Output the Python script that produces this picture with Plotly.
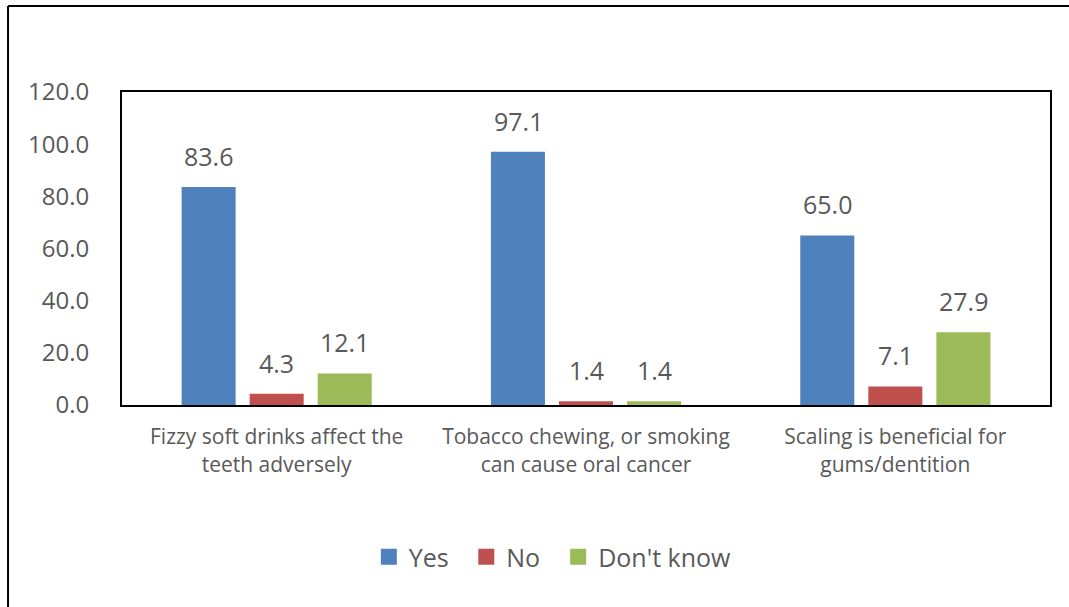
import plotly.graph_objects as go

categories = ["Fizzy soft drinks affect the<br>teeth adversely",
              "Tobacco chewing, or smoking<br>can cause oral cancer",
              "Scaling is beneficial for<br>gums/dentition"]
series_names = ["Yes", "No", "Don't know"]
yes_vals = [83.6, 97.1, 65.0]
no_vals = [4.3, 1.4, 7.1]
dk_vals = [12.1, 1.4, 27.9]
colors = ["#4F81BD", "#C0504D", "#9BBB59"]
y_ticks = [0, 20, 40, 60, 80, 100, 120]

FONT = "Open Sans, Liberation Sans, sans-serif"
GREY = "#595959"

fig = go.Figure()
all_vals = [yes_vals, no_vals, dk_vals]
for name, vals, col in zip(series_names, all_vals, colors):
    fig.add_trace(go.Bar(name=name, x=categories, y=vals, marker_color=col,
                         marker_line_width=0, hoverinfo="skip", showlegend=False))

# legend entries with larger square swatches, one legend per entry for spacing
legend_ids = ["legend", "legend2", "legend3"]
legend_x = [0.266, 0.371, 0.470]
for name, col, lid in zip(series_names, colors, legend_ids):
    fig.add_trace(go.Scatter(name=name, x=[None], y=[None], mode="markers",
                             marker=dict(symbol="square", size=16, color=col),
                             showlegend=True, legend=lid))

offsets = [-68, 0, 68]
for vals, off in zip(all_vals, offsets):
    for c, v in zip(categories, vals):
        fig.add_annotation(x=c, y=v, text=f"{v:.1f}", showarrow=False,
                           xshift=off, yshift=12, yanchor="bottom",
                           font=dict(family=FONT, size=25, color=GREY))

# outer chart border (left and top)
fig.add_shape(type="line", xref="paper", yref="paper", x0=-0.1228, x1=1.03,
              y0=1.275, y1=1.275, line=dict(color="#000000", width=2))
fig.add_shape(type="line", xref="paper", yref="paper", x0=-0.1228, x1=-0.1228,
              y0=1.275, y1=-0.65, line=dict(color="#000000", width=2))

legend_common = dict(orientation="h", xanchor="left", y=-0.486, yanchor="middle",
                     font=dict(family=FONT, size=25, color=GREY), itemsizing="trace",
                     bgcolor="rgba(0,0,0,0)")

fig.update_layout(
    width=1069, height=607,
    margin=dict(l=122, r=19, t=92, b=202),
    paper_bgcolor="white", plot_bgcolor="white",
    barmode="group", bargap=0.34, bargroupgap=0.206,
    font=dict(family=FONT, color=GREY),
    showlegend=True,
    legend=dict(x=legend_x[0], **legend_common),
    legend2=dict(x=legend_x[1], **legend_common),
    legend3=dict(x=legend_x[2], **legend_common),
    xaxis=dict(showline=True, linecolor="#000000", linewidth=2, mirror=True,
               ticks="", ticklabelstandoff=12,
               tickfont=dict(family=FONT, size=21, color=GREY)),
    yaxis=dict(range=[0, 120], tickvals=y_ticks, ticktext=[f"{t:.1f}" for t in y_ticks],
               showline=True, linecolor="#000000", linewidth=2, mirror=True,
               showgrid=False, zeroline=False, ticks="", ticklen=0,
               ticklabelstandoff=26,
               tickfont=dict(family=FONT, size=24, color=GREY)),
)

fig.write_html("out.html")
